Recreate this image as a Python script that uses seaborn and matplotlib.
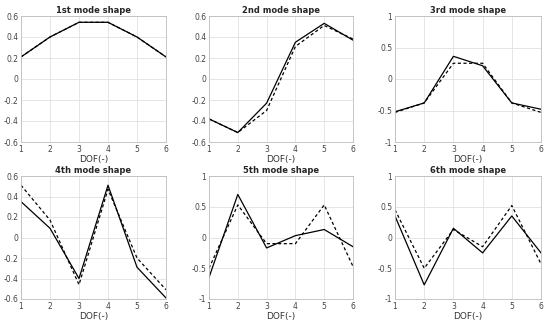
import numpy as np
import pandas as pd
import matplotlib
matplotlib.use("Agg")
import matplotlib.pyplot as plt
import seaborn as sns

dof = [1, 2, 3, 4, 5, 6]
titles = ["1st mode shape", "2nd mode shape", "3rd mode shape",
          "4th mode shape", "5th mode shape", "6th mode shape"]

mode1_solid = [0.21, 0.40, 0.54, 0.54, 0.40, 0.21]
mode1_dash = [0.21, 0.40, 0.54, 0.54, 0.40, 0.21]
mode2_solid = [-0.38, -0.51, -0.23, 0.35, 0.53, 0.37]
mode2_dash = [-0.38, -0.51, -0.30, 0.31, 0.51, 0.38]
mode3_solid = [-0.52, -0.38, 0.36, 0.21, -0.38, -0.48]
mode3_dash = [-0.53, -0.38, 0.25, 0.25, -0.38, -0.53]
mode4_solid = [0.35, 0.09, -0.40, 0.51, -0.29, -0.59]
mode4_dash = [0.51, 0.17, -0.46, 0.47, -0.20, -0.51]
mode5_solid = [-0.65, 0.70, -0.17, 0.03, 0.13, -0.15]
mode5_dash = [-0.50, 0.53, -0.10, -0.10, 0.53, -0.47]
mode6_solid = [0.35, -0.77, 0.15, -0.25, 0.35, -0.25]
mode6_dash = [0.45, -0.50, 0.13, -0.15, 0.52, -0.43]

solids = [mode1_solid, mode2_solid, mode3_solid, mode4_solid, mode5_solid, mode6_solid]
dashes = [mode1_dash, mode2_dash, mode3_dash, mode4_dash, mode5_dash, mode6_dash]

ticks_small = [-0.6, -0.4, -0.2, 0, 0.2, 0.4, 0.6]
labels_small = ["-0.6", "-0.4", "-0.2", "0", "0.2", "0.4", "0.6"]
ticks_big = [-1, -0.5, 0, 0.5, 1]
labels_big = ["-1", "-0.5", "0", "0.5", "1"]
small_modes = [0, 1, 3]

sns.set_style("white")
plt.rcParams['font.family'] = ['DejaVu Sans']

fig = plt.figure(figsize=(5.5, 3.24), dpi=100)
lefts = [21 / 550, 209 / 550, 395 / 550]
widths = [145 / 550, 144 / 550, 146 / 550]
bottoms = [1 - 142 / 324, 1 - 299 / 324]
heights = [126 / 324, 123 / 324]

for i in range(6):
    r, c = divmod(i, 3)
    ax = fig.add_axes([lefts[c], bottoms[r], widths[c], heights[r]])
    df = pd.DataFrame({
        "DOF": dof * 2,
        "val": solids[i] + dashes[i],
        "kind": ["solid"] * 6 + ["dash"] * 6,
    })
    sns.lineplot(data=df, x="DOF", y="val", style="kind",
                 dashes={"solid": "", "dash": (2.5, 2.0)},
                 color="black", linewidth=0.9, ax=ax, legend=False,
                 estimator=None, sort=False)
    ax.set_xlim(1, 6)
    ax.set_xticks(dof)
    ax.set_xticklabels([str(d) for d in dof])
    if i in small_modes:
        ax.set_ylim(-0.6, 0.6)
        ax.set_yticks(ticks_small)
        ax.set_yticklabels(labels_small)
    else:
        ax.set_ylim(-1, 1)
        ax.set_yticks(ticks_big)
        ax.set_yticklabels(labels_big)
    ax.grid(True, color="#e0e0e0", linewidth=0.6)
    ax.set_axisbelow(True)
    for s in ax.spines.values():
        s.set_color("#bdbdbd")
        s.set_linewidth(0.6)
    ax.tick_params(axis="both", labelsize=5.5, colors="#444444", length=2,
                   width=0.5, pad=2, direction="in")
    ax.set_title(titles[i], fontsize=6, fontweight="bold", pad=2)
    ax.set_xlabel("DOF(-)", fontsize=6.5, color="#333333", labelpad=1)
    ax.set_ylabel("")

fig.savefig("out.png", dpi=100)
